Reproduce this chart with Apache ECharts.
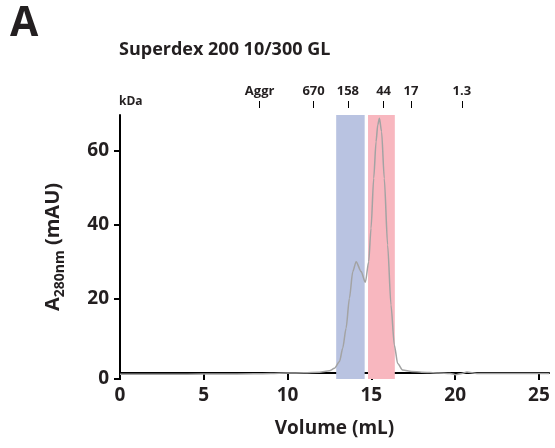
<!DOCTYPE html>
<html>
<head>
<meta charset="utf-8">
<script src="https://cdn.jsdelivr.net/npm/echarts@6/dist/echarts.min.js"></script>
<style>
  html, body { margin: 0; padding: 0; background: #fff; }
  #chart { width: 555px; height: 448px; }
</style>
</head>
<body>
<div id="chart"></div>
<script>
// elution trace (volume in mL, A280 in mAU)
const volume = [0, 2, 4, 6, 8, 9, 10, 11, 11.9, 12.5, 12.8, 13.1, 13.29, 13.49, 13.69, 13.89, 14.09, 14.39, 14.64, 14.84, 14.98, 15.14, 15.28, 15.38, 15.48, 15.61, 15.77, 15.97, 16.17, 16.37, 16.57, 16.87, 17.4, 18, 19, 19.7, 20.04, 20.4, 20.7, 21.3, 23, 25.6];
const absorbance = [-0.3, -0.3, -0.3, -0.25, -0.2, -0.1, 0, 0.1, 0.2, 0.6, 1.3, 3.1, 6.7, 12.1, 20.2, 27.4, 30.1, 27.4, 24.5, 30.1, 39.1, 52.6, 62.5, 67, 68.8, 65.2, 52.6, 34.6, 18.4, 7.6, 2.6, 0.8, 0.4, 0.25, 0, -0.1, -0.44, -0.1, 0.29, -0.09, -0.1, -0.1];

// collected fractions
const blueFraction = [12.9, 14.6];
const pinkFraction = [14.8, 16.4];

// size standards on top
const markerVolumes = [8.33, 11.55, 13.6, 15.73, 17.36, 20.4];
const markerLabels = ['Aggr', '670', '158', '44', '17', '1.3'];

const yTicks = [-1.6, 20, 40, 60];

const FONT = 'Open Sans';
const DARK = '#231f20';

let chart = echarts.init(document.getElementById('chart'));
chart.setOption({
    animation: false,
    textStyle: { fontFamily: FONT },
    graphic: [
        { type: 'text', left: 10, top: 4, style: { text: 'A', font: 'bold 41px ' + FONT, fill: DARK } },
        { type: 'text', left: 119, top: 41, style: { text: 'Superdex 200 10/300 GL', font: 'bold 18px ' + FONT, fill: DARK } },
        { type: 'text', left: 119, top: 96, style: { text: 'kDa', font: 'bold 12px ' + FONT, fill: DARK } }
    ],
    grid: { left: 120, right: 6, top: 115, bottom: 69 },
    xAxis: [{
        type: 'value',
        min: 0, max: 25.6, interval: 5,
        name: 'Volume (mL)',
        nameLocation: 'middle',
        nameGap: 40,
        nameTextStyle: { fontSize: 19, fontWeight: 'bold', color: DARK },
        axisLine: { lineStyle: { color: '#000', width: 2 } },
        axisTick: { length: 7, lineStyle: { color: '#000', width: 2 } },
        axisLabel: { fontSize: 19, fontWeight: 'bold', color: DARK, margin: 7, showMaxLabel: false },
        splitLine: { show: false }
    }, {
        type: 'value',
        position: 'top',
        offset: 7,
        min: 0, max: 25.6,
        axisLine: { show: false },
        axisTick: { show: true, length: 7, customValues: markerVolumes, lineStyle: { color: '#000', width: 1 } },
        axisLabel: {
            customValues: markerVolumes,
            margin: 10,
            fontSize: 13, fontWeight: 'bold', color: DARK,
            formatter: v => markerLabels[markerVolumes.indexOf(v)] || ''
        },
        splitLine: { show: false }
    }],
    yAxis: {
        type: 'value',
        min: -1.6, max: 69.7,
        name: '{a|A}{s|280nm}{a| (mAU)}',
        nameLocation: 'middle',
        nameGap: 53,
        nameTextStyle: {
            color: DARK,
            rich: {
                a: { fontSize: 20, fontWeight: 'bold', color: DARK, verticalAlign: 'top' },
                s: { fontSize: 14, fontWeight: 'bold', color: DARK, verticalAlign: 'top', padding: [10, 0, 0, 0] }
            }
        },
        axisLine: { show: true, lineStyle: { color: '#000', width: 2 } },
        axisTick: { show: true, length: 6, customValues: yTicks, lineStyle: { color: '#000', width: 2 } },
        axisLabel: {
            customValues: yTicks,
            fontSize: 19, fontWeight: 'bold', color: DARK, margin: 11,
            formatter: v => v < 0 ? '0' : String(v)
        },
        splitLine: { show: false }
    },
    series: [{
        type: 'line',
        data: volume.map((v, i) => [v, absorbance[i]]),
        showSymbol: false,
        smooth: 0.25,
        smoothMonotone: 'x',
        lineStyle: { color: '#a3a3a3', width: 1.5 },
        markArea: {
            silent: true,
            data: [
                [{ xAxis: blueFraction[0], itemStyle: { color: '#b9c3e1' } }, { xAxis: blueFraction[1] }],
                [{ xAxis: pinkFraction[0], itemStyle: { color: '#f8b7bf' } }, { xAxis: pinkFraction[1] }]
            ]
        }
    }]
});
</script>
</body>
</html>
